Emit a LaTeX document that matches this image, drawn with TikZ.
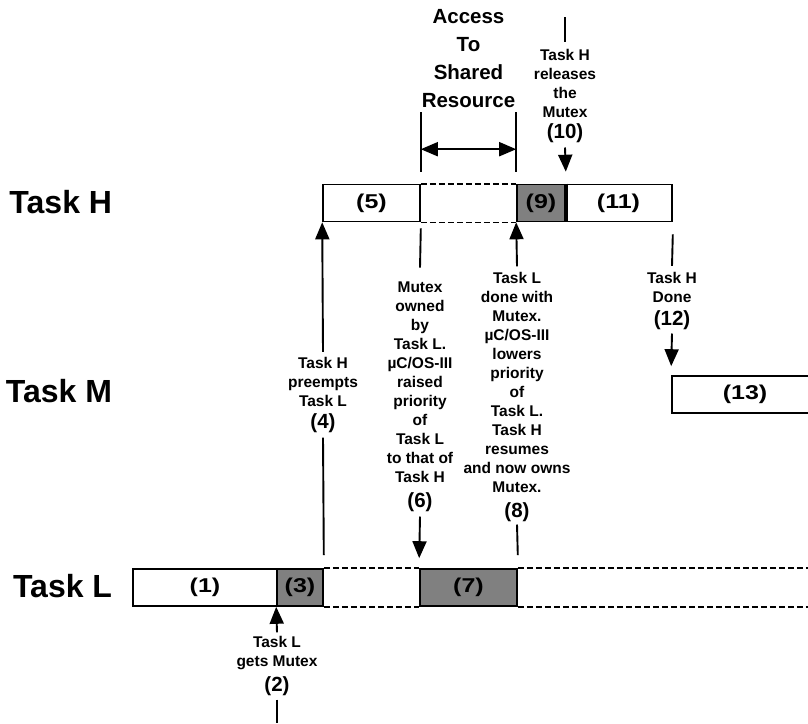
\documentclass[tikz,border=0pt]{standalone}
\usepackage{fontspec}
\setmainfont{Liberation Sans}
\newfontfamily\slotfont[FakeStretch=1.25]{Liberation Sans}
\usepackage{xcolor}
\usetikzlibrary{arrows.meta,positioning}

\begin{document}
\begin{tikzpicture}[x=1pt,y=-1pt,>={Triangle[length=17pt,width=14pt]},line width=1.9pt,
 slot/.style={draw,line width=1.6pt,minimum height=37pt,inner sep=0pt,font=\slotfont\bfseries\fontsize{20}{20}\selectfont},
 held/.style={slot,fill=gray},
 gap/.style={line width=1.6pt,dash pattern=on 6pt off 3pt},
 task/.style={inner sep=0pt,font=\bfseries\fontsize{32}{32}\selectfont},
 note/.style={align=center,inner sep=0pt,font=\bfseries\fontsize{15.5}{19}\selectfont},
 num/.style={inner sep=0pt,font=\bfseries\fontsize{20.5}{20}\selectfont}]
\useasboundingbox (0,0) rectangle (808,723);

\node[task,anchor=base east] (tH) at (113,213) {Task H};
\node[task,anchor=base east] (tM) at (113,402) {Task M};
\node[task,anchor=base east] (tL) at (113,597) {Task L};

% time slots
\node[slot,minimum width=97pt] (b5) at (371.5,203) {(5)};
\node[held,minimum width=48pt] (b9) at (541,203) {(9)};
\node[slot,minimum width=107pt] (b11) at (618.5,203) {(11)};
\node[slot,minimum width=146pt] (b13) at (745,394.5) {(13)};
\node[slot,minimum width=144pt] (b1) at (205,587.5) {(1)};
\node[held,minimum width=46pt] (b3) at (300,587.5) {(3)};
\node[held,minimum width=97pt] (b7) at (468.5,587.5) {(7)};
\coordinate (Lend) at (808,569);
\coordinate (bot) at (0,723);

\draw[gap] (b5.north east) -- (b9.north west) (b5.south east) -- (b9.south west);
\draw[gap] (b3.north east) -- (b7.north west) (b3.south east) -- (b7.south west);
\draw[gap] (b7.north east) -- (b7.north east -| Lend) (b7.south east) -- (b7.south east -| Lend);
\draw[line width=3.5pt] (b9.north east) -- (b9.south east);

% shared resource
\node[align=center,inner sep=0pt,font=\bfseries\fontsize{20.5}{27.7}\selectfont] (acc) at (468.5,58.5) {Access\\To\\Shared\\Resource};
\draw (b5.north east) ++(0,-12) coordinate (aL) -- ++(0,-60);
\draw (b9.north west) ++(0,-12) coordinate (aR) -- ++(0,-60);
\draw[<->] ([yshift=22.5pt]aL) -- ([yshift=22.5pt]aR);

% events
\node[note] (t2) at (277,653) {Task L\\gets Mutex};
\node[num] (n2) at (277,686) {(2)};
\draw[->] ([yshift=3pt]t2.north) -- (b3.south west);
\draw ([yshift=-3pt]n2.south) -- (n2.south |- bot);

\node[note] (t4) at (323,382) {Task H\\preempts\\Task L};
\node[num] (n4) at (323,423) {(4)};
\draw[->] ([yshift=4.5pt]t4.north) -- (b5.south west);
\draw ([yshift=-4pt]n4.south) -- ([yshift=13pt]b3.north east);

\node[note] (t6) at (420,382) {Mutex\\owned\\by\\Task L.\\µC/OS-III\\raised\\priority\\of\\Task L\\to that of\\Task H};
\node[num] (n6) at (420,502) {(6)};
\draw ([yshift=-6pt]b5.south east) -- ([yshift=13pt]t6.north);
\draw[->] ([yshift=-4pt]n6.south) -- ([yshift=10pt]b7.north west);

\node[note] (t8) at (517,382.5) {Task L\\done with\\Mutex.\\µC/OS-III\\lowers\\priority\\of\\Task L.\\Task H\\resumes\\and now owns\\Mutex.};
\node[num] (n8) at (517,512) {(8)};
\draw[->] ([yshift=5pt]t8.north) -- (b9.south west);
\draw ([yshift=-2pt]n8.south) -- ([yshift=13pt]b7.north east);

\node[note] (t10) at (565,83) {Task H\\releases\\the\\Mutex};
\node[num] (n10) at (565,133) {(10)};
\coordinate (top10) at (565,17);
\draw (top10) -- ([yshift=6pt]t10.north);
\draw[->] ([yshift=-4pt]n10.south) -- ([yshift=12pt]b9.north east);

\node[note] (t12) at (672,287) {Task H\\Done};
\node[num] (n12) at (672,320) {(12)};
\draw ([yshift=-12pt]b11.south east) -- ([yshift=5pt]t12.north);
\draw[->] ([yshift=-3pt]n12.south) -- ([yshift=9pt]b13.north west);
\end{tikzpicture}
\end{document}
